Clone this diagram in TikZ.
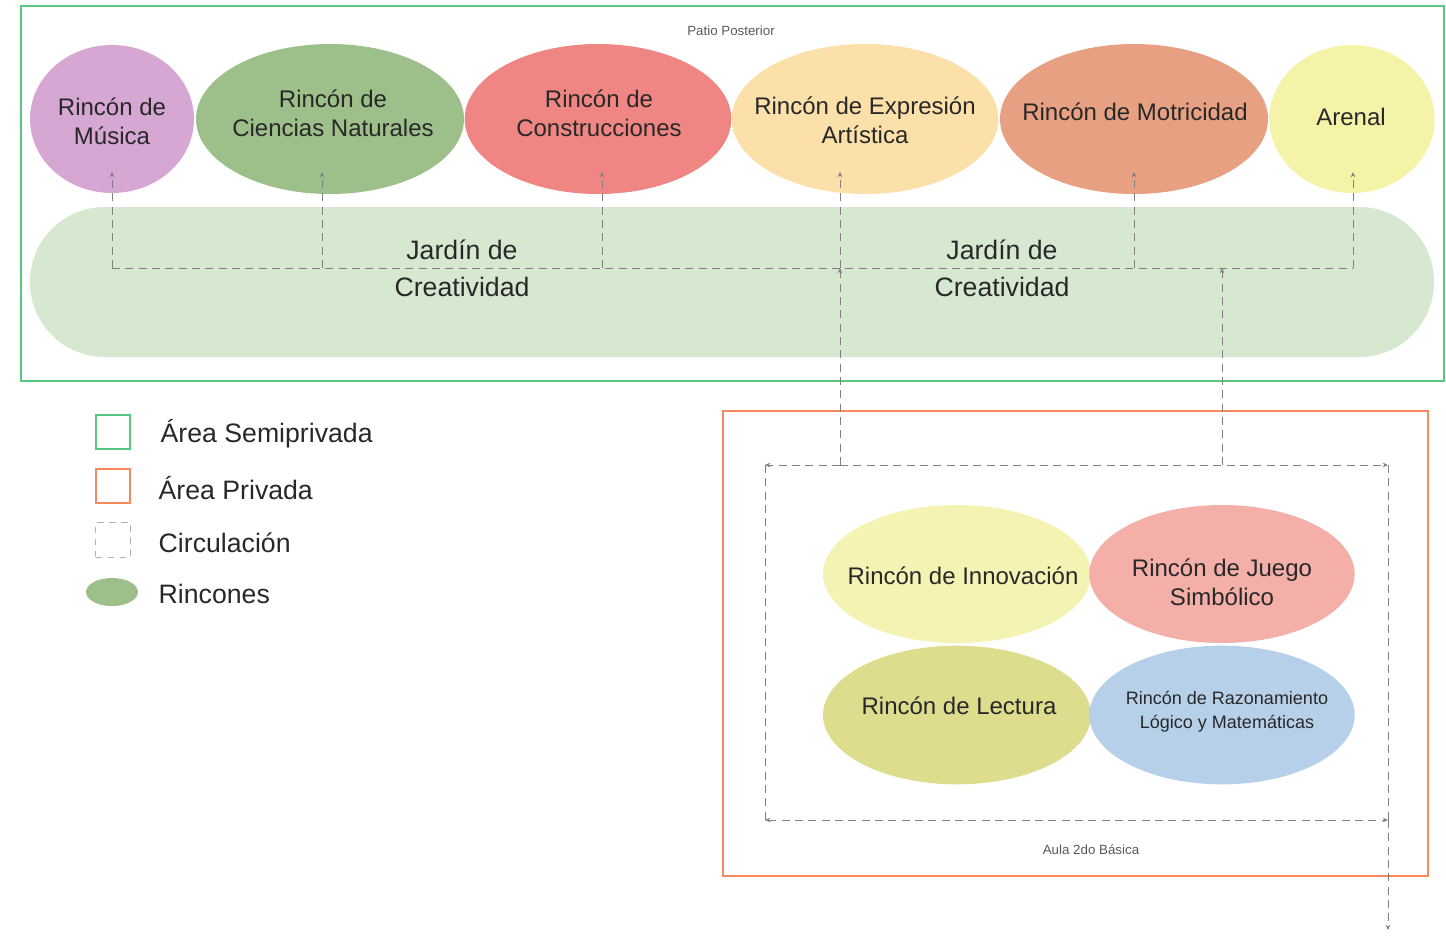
\documentclass[tikz,border=0pt]{standalone}
\usepackage{fontspec}
\setmainfont{Liberation Sans}
\usepackage{xcolor}
\usetikzlibrary{shapes.geometric,arrows.meta}

\definecolor{musica}{RGB}{214,167,210}
\definecolor{ciencias}{RGB}{157,191,138}
\definecolor{construc}{RGB}{240,134,131}
\definecolor{expresion}{RGB}{251,224,169}
\definecolor{motric}{RGB}{232,160,131}
\definecolor{arenal}{RGB}{245,243,168}
\definecolor{jardin}{RGB}{214,233,208}
\definecolor{semipriv}{RGB}{88,200,128}
\definecolor{priv}{RGB}{245,138,95}
\definecolor{innov}{RGB}{245,243,180}
\definecolor{juego}{RGB}{244,176,168}
\definecolor{lectura}{RGB}{222,220,141}
\definecolor{razon}{RGB}{183,208,234}
\definecolor{texto}{RGB}{40,40,40}

\begin{document}
\begin{tikzpicture}[x=0.75pt,y=-0.75pt,
  rincon/.style={ellipse, inner sep=0pt},
  rtxt/.style={align=center, text=texto, inner sep=0pt,
    font=\fontsize{18}{22}\selectfont},
  circ/.style={gray, line width=0.6pt, dash pattern=on 6pt off 4pt},
  legtxt/.style={anchor=west, text=texto, font=\fontsize{20}{24}\selectfont},
  >={Stealth[length=4pt,width=3.5pt]}]

\useasboundingbox (0,0) rectangle (1446,936);

% areas
\draw[semipriv, line width=2pt] (21,6) rectangle (1444,381);
\draw[priv, line width=1.8pt] (723,411) rectangle (1428,876);
\node[gray!70!black, font=\fontsize{10}{12}\selectfont](patio) at (731,31) {Patio Posterior};
\node[gray!70!black, font=\fontsize{10}{12}\selectfont](aula) at (1091,850) {Aula 2do Básica};

% jardin
\node[fill=jardin, rounded corners=56pt, minimum width=1053pt, minimum height=112.5pt](jardin) at (732,282) {};
\node[rtxt, font=\fontsize{20}{28}\selectfont](jt1) at (462,268) {Jardín de\\Creatividad};
\node[rtxt, font=\fontsize{20}{28}\selectfont](jt2) at (1002,268) {Jardín de\\Creatividad};

% rincones del patio
\node[rincon, fill=musica, minimum width=123pt, minimum height=111pt](musica) at (112,119) {};
\node[rincon, fill=ciencias, minimum width=201pt, minimum height=112.5pt](ciencias) at (330,119) {};
\node[rincon, fill=construc, minimum width=200pt, minimum height=112.5pt](construc) at (598,119) {};
\node[rincon, fill=expresion, minimum width=200pt, minimum height=112.5pt](expresion) at (865,119) {};
\node[rincon, fill=motric, minimum width=201pt, minimum height=112.5pt](motric) at (1134,119) {};
\node[rincon, fill=arenal, minimum width=124pt, minimum height=111pt](arenal) at (1352,119) {};

\node[rtxt](musica-t) at (112,121) {Rincón de\\Música};
\node[rtxt](ciencias-t) at (333,113) {Rincón de\\Ciencias Naturales};
\node[rtxt](construc-t) at (599,113) {Rincón de\\Construcciones};
\node[rtxt](expresion-t) at (865,120) {Rincón de Expresión\\Artística};
\node[rtxt](motric-t) at (1135,112) {Rincón de Motricidad};
\node[rtxt](arenal-t) at (1351,117) {Arenal};

% rincones del aula
\node[rincon, fill=innov, minimum width=201pt, minimum height=103.5pt](innov) at (957,574) {};
\node[rincon, fill=juego, minimum width=199pt, minimum height=103.5pt](juego) at (1222,574) {};
\node[rincon, fill=lectura, minimum width=201pt, minimum height=104pt](lectura) at (957,715) {};
\node[rincon, fill=razon, minimum width=199pt, minimum height=104pt](razon) at (1222,715) {};

\node[rtxt](innov-t) at (963,576) {Rincón de Innovación};
\node[rtxt](juego-t) at (1222,582) {Rincón de Juego\\Simbólico};
\node[rtxt](lectura-t) at (959,706) {Rincón de Lectura};
\node[rtxt, font=\fontsize{13.5}{18}\selectfont](razon-t) at (1227,712) {Rincón de Razonamiento\\Lógico y Matemáticas};

% circulacion
\coordinate (j1) at (112,268);
\coordinate (j2) at (322,268);
\coordinate (j3) at (602,268);
\coordinate (j4) at (840,268);
\coordinate (j5) at (1134,268);
\coordinate (j6) at (1353,268);
\coordinate (j7) at (1222,268);
\coordinate (a1) at (840,465);
\coordinate (a2) at (1222,465);
\coordinate (c1) at (765,465);
\coordinate (c2) at (1388,465);
\coordinate (c3) at (1388,820);
\coordinate (c4) at (765,820);
\coordinate (salida) at (1388,930);

\draw[circ] (j1) -- (j6);
\draw[circ,->] (j1) -- (j1 |- 0,172);
\draw[circ,->] (j2) -- (j2 |- 0,172);
\draw[circ,->] (j3) -- (j3 |- 0,172);
\draw[circ,->] (j4) -- (j4 |- 0,172);
\draw[circ,->] (j5) -- (j5 |- 0,172);
\draw[circ,->] (j6) -- (j6 |- 0,172);
\draw[circ,->] (a1) -- (j4);
\draw[circ,->] (a2) -- (j7);
\draw[circ,->] (a1) -- (c1);
\draw[circ,->] (a1) -- (c2);
\draw[circ] (c1) -- (c4);
\draw[circ] (c2) -- (c3);
\draw[circ,<->] (c4) -- (c3);
\draw[circ,->] (c3) -- (salida);

% leyenda
\node[draw=semipriv, line width=1.6pt, minimum size=26pt, inner sep=0pt](leg1) at (113,432) {};
\node[legtxt](legt1) at (156,434) {Área Semiprivada};
\node[draw=priv, line width=1.6pt, minimum size=26pt, inner sep=0pt](leg2) at (113,486) {};
\node[legtxt](legt2) at (154,488) {Área Privada};
\node[draw=gray!60, line width=0.6pt, dash pattern=on 5pt off 4pt, minimum size=26pt, inner sep=0pt](leg3) at (113,540) {};
\node[legtxt](legt3) at (154,543) {Circulación};
\node[ellipse, fill=ciencias, minimum width=39pt, minimum height=21pt, inner sep=0pt](leg4) at (112,592) {};
\node[legtxt](legt4) at (154,594) {Rincones};

\end{tikzpicture}
\end{document}
